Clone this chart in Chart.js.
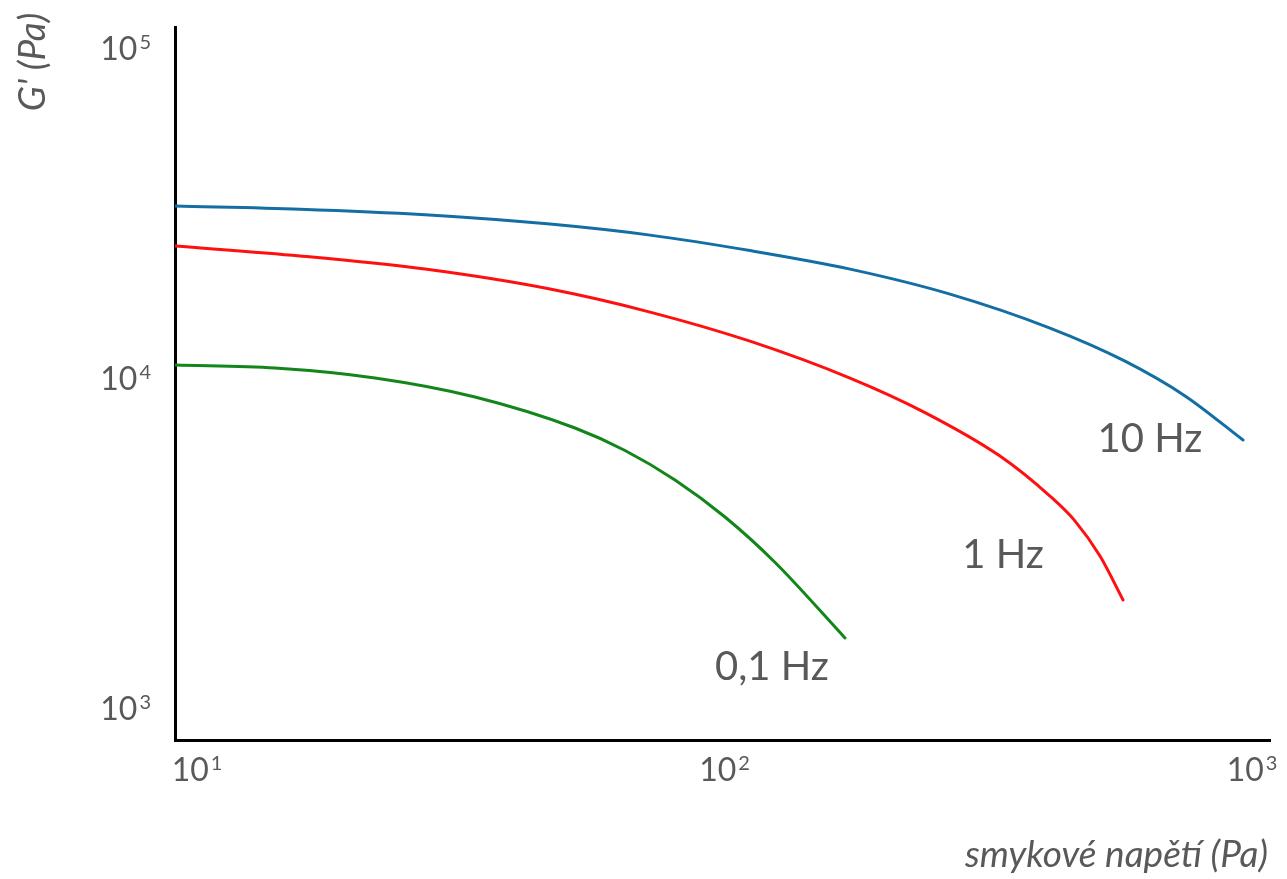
<!DOCTYPE html>
<html><head><meta charset="utf-8">
<script src="https://cdn.jsdelivr.net/npm/chart.js@4/dist/chart.umd.min.js"></script>
<style>html,body{margin:0;padding:0;background:#fff}canvas{display:block}</style>
</head><body>
<canvas id="c" width="1287" height="879"></canvas>
<script>
// Data (shear stress in Pa, G' in Pa)
const stress10Hz = [8.97, 15.47, 26.70, 46.08, 71.31, 110.3, 170.7, 264.1, 408.6, 567.0, 736.9, 949];
const g10Hz      = [33200, 32490, 31250, 29270, 27100, 24330, 21380, 17960, 14170, 11250, 8827, 6488];
const stress1Hz  = [8.97, 15.47, 26.70, 46.08, 71.31, 110.3, 170.7, 236.8, 328.5, 408.6, 456.0, 508.3, 562.1];
const g1Hz       = [25120, 23430, 21380, 18600, 15840, 12930, 9993, 7855, 5799, 4386, 3684, 2886, 2125];
const stress01Hz = [8.97, 13.87, 21.47, 33.21, 51.39, 63.93, 79.52, 98.91, 123.1, 167.0];
const g01Hz      = [10950, 10720, 10000, 8759, 7055, 6030, 4909, 3791, 2760, 1630];
const seriesLabels = ["10 Hz", "1 Hz", "0,1 Hz"];
const xTickValues = [10, 100, 1000];
const xTickExponents = ["1", "2", "3"];
const yTickValues = [1000, 10000, 100000];
const yTickExponents = ["3", "4", "5"];
const xTitle = "smykové napětí (Pa)";
const yTitle = "G' (Pa)";

const toPts = (xs, ys) => xs.map((x, i) => ({x: x, y: ys[i]}));
const GRAY = '#595959';
const FONT = 'Lato, "Open Sans", sans-serif';

const textPlugin = {
  id: 'texts',
  afterDraw(chart) {
    const ctx = chart.ctx;
    const xs = chart.scales.x, ys = chart.scales.y;
    ctx.save();
    ctx.fillStyle = GRAY;
    ctx.textBaseline = 'alphabetic';
    const drawPow = (exp, cx, baseY, align) => {
      ctx.font = '32px ' + FONT;
      const wb = ctx.measureText('10').width;
      ctx.font = '20px ' + FONT;
      const we = ctx.measureText(exp).width;
      const total = wb + 2 + we;
      const left = align === 'right' ? cx - total : cx - total / 2;
      ctx.textAlign = 'left';
      ctx.font = '32px ' + FONT;
      ctx.fillText('10', left, baseY);
      ctx.font = '20px ' + FONT;
      ctx.fillText(exp, left + wb + 2, baseY - 11);
    };
    yTickValues.forEach((v, i) => {
      drawPow(yTickExponents[i], 151, ys.getPixelForValue(v) + 12, 'right');
    });
    xTickValues.forEach((v, i) => {
      drawPow(xTickExponents[i], xs.getPixelForValue(v) - 3, 781, 'center');
    });
    // axis titles
    ctx.font = 'italic 37px ' + FONT;
    ctx.textAlign = 'right';
    ctx.fillText(xTitle, 1268, 867);
    ctx.save();
    ctx.translate(45, 62);
    ctx.rotate(-Math.PI / 2);
    ctx.textAlign = 'center';
    ctx.fillText(yTitle, 0, 0);
    ctx.restore();
    // curve labels
    ctx.font = '40px ' + FONT;
    ctx.textAlign = 'center';
    const labelPos = [[1150, 452], [1003, 568], [772, 680]];
    seriesLabels.forEach((t, i) => ctx.fillText(t, labelPos[i][0], labelPos[i][1]));
    ctx.restore();
  }
};

new Chart(document.getElementById('c'), {
  type: 'line',
  data: {
    datasets: [
      {label: seriesLabels[0], data: toPts(stress10Hz, g10Hz), borderColor: '#136fa3'},
      {label: seriesLabels[1], data: toPts(stress1Hz, g1Hz), borderColor: '#ff1010'},
      {label: seriesLabels[2], data: toPts(stress01Hz, g01Hz), borderColor: '#12861a'}
    ].map(d => Object.assign(d, {borderWidth: 3, pointRadius: 0, fill: false, cubicInterpolationMode: 'monotone', borderCapStyle: 'round'}))
  },
  options: {
    responsive: false,
    animation: false,
    layout: {padding: {top: 27, right: 17, left: 0, bottom: 0}},
    plugins: {legend: {display: false}, tooltip: {enabled: false}},
    scales: {
      x: {
        type: 'logarithmic',
        min: 8.966, max: 1067.6,
        grid: {display: false, drawTicks: false},
        border: {display: true, color: '#000', width: 3},
        ticks: {display: false},
        afterFit(s) { s.height = 879 - 740; }
      },
      y: {
        type: 'logarithmic',
        min: 799.8, max: 115800,
        grid: {display: false, drawTicks: false},
        border: {display: true, color: '#000', width: 3},
        ticks: {display: false},
        afterFit(s) { s.width = 175; }
      }
    }
  },
  plugins: [textPlugin]
});
</script>
</body></html>
